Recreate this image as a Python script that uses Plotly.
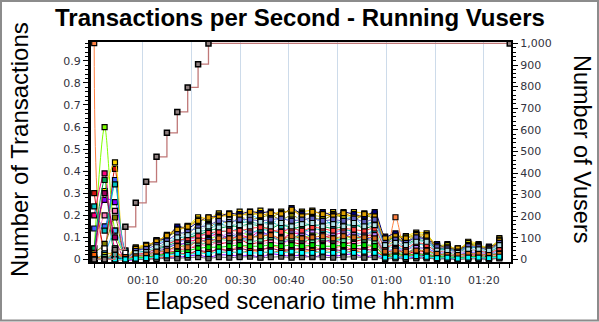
import plotly.graph_objects as go

# Sample times of the transactions-per-second series (seconds since scenario start)
elapsed_sec = [0, 128, 256, 384, 512, 640, 768, 896, 1024, 1152,
               1280, 1408, 1536, 1664, 1792, 1920, 2048, 2176, 2304, 2432,
               2560, 2688, 2816, 2944, 3072, 3200, 3328, 3456, 3584, 3712,
               3840, 3968, 4096, 4224, 4352, 4480, 4608, 4736, 4864, 4992]

# Running Vusers (right axis)
vuser_sec = [0, 128, 256, 384, 512, 640, 768, 896, 1024, 1152, 1280, 1408, 5120]
vusers = [0, 0, 45, 151, 262, 359, 475, 586, 683, 796, 904, 1000, 1000]

# Transactions per second, one list per transaction
tps_01 = [0.98, 0.04, 0.02, 0.01, 0.020, 0.010, 0.010, 0.020, 0.030, 0.020, 0.040, 0.030, 0.050, 0.040, 0.060, 0.050, 0.040, 0.060, 0.050, 0.040, 0.050, 0.060, 0.040, 0.050, 0.060, 0.040, 0.050, 0.060, 0.020, 0.191, 0.030, 0.020, 0.010, 0.010, 0.005, 0.010, 0.020, 0.010, 0.010, 0.020]
tps_02 = [0.05, 0.60, 0.13, 0.02, 0.010, 0.020, 0.040, 0.050, 0.070, 0.060, 0.100, 0.090, 0.110, 0.100, 0.120, 0.110, 0.100, 0.120, 0.130, 0.110, 0.100, 0.110, 0.120, 0.100, 0.090, 0.110, 0.100, 0.120, 0.030, 0.050, 0.020, 0.060, 0.040, 0.020, 0.030, 0.020, 0.030, 0.010, 0.020, 0.030]
tps_03 = [0.20, 0.39, 0.05, 0.00, 0.005, 0.015, 0.030, 0.040, 0.060, 0.080, 0.090, 0.100, 0.120, 0.090, 0.110, 0.100, 0.130, 0.100, 0.090, 0.120, 0.110, 0.090, 0.100, 0.110, 0.120, 0.090, 0.110, 0.100, 0.020, 0.040, 0.030, 0.030, 0.020, 0.010, 0.020, 0.010, 0.020, 0.020, 0.010, 0.020]
tps_04 = [0.30, 0.05, 0.41, 0.02, 0.010, 0.010, 0.020, 0.030, 0.040, 0.050, 0.060, 0.080, 0.070, 0.080, 0.090, 0.070, 0.080, 0.090, 0.100, 0.080, 0.070, 0.100, 0.080, 0.090, 0.070, 0.080, 0.090, 0.080, 0.020, 0.030, 0.020, 0.040, 0.030, 0.010, 0.010, 0.005, 0.010, 0.020, 0.010, 0.010]
tps_05 = [0.14, 0.15, 0.36, 0.04, 0.015, 0.025, 0.035, 0.050, 0.070, 0.070, 0.080, 0.090, 0.090, 0.110, 0.100, 0.090, 0.120, 0.110, 0.080, 0.090, 0.120, 0.100, 0.090, 0.080, 0.100, 0.120, 0.090, 0.100, 0.030, 0.050, 0.030, 0.050, 0.050, 0.030, 0.020, 0.020, 0.030, 0.030, 0.020, 0.030]
tps_06 = [0.00, 0.31, 0.44, 0.01, 0.055, 0.066, 0.080, 0.111, 0.140, 0.152, 0.191, 0.185, 0.209, 0.200, 0.217, 0.210, 0.221, 0.205, 0.217, 0.215, 0.217, 0.221, 0.205, 0.214, 0.200, 0.214, 0.209, 0.200, 0.060, 0.090, 0.106, 0.121, 0.118, 0.050, 0.069, 0.030, 0.080, 0.069, 0.040, 0.096]
tps_07 = [0.02, 0.27, 0.26, 0.00, 0.000, 0.005, 0.005, 0.010, 0.010, 0.015, 0.020, 0.010, 0.020, 0.020, 0.015, 0.020, 0.010, 0.025, 0.020, 0.015, 0.020, 0.010, 0.020, 0.015, 0.020, 0.025, 0.010, 0.020, 0.005, 0.010, 0.005, 0.010, 0.010, 0.005, 0.005, 0.000, 0.010, 0.005, 0.005, 0.010]
tps_08 = [0.24, 0.13, 0.34, 0.04, 0.020, 0.030, 0.050, 0.065, 0.090, 0.085, 0.120, 0.110, 0.130, 0.125, 0.140, 0.120, 0.135, 0.130, 0.120, 0.150, 0.125, 0.140, 0.130, 0.120, 0.135, 0.125, 0.110, 0.130, 0.050, 0.060, 0.040, 0.070, 0.060, 0.040, 0.030, 0.030, 0.040, 0.040, 0.020, 0.050]
tps_09 = [0.05, 0.36, 0.03, 0.00, 0.025, 0.035, 0.045, 0.060, 0.080, 0.100, 0.110, 0.130, 0.140, 0.150, 0.150, 0.160, 0.150, 0.140, 0.160, 0.140, 0.150, 0.160, 0.150, 0.140, 0.150, 0.160, 0.140, 0.150, 0.080, 0.100, 0.070, 0.090, 0.080, 0.050, 0.050, 0.040, 0.060, 0.060, 0.040, 0.070]
tps_10 = [0.00, 0.20, 0.22, 0.03, 0.008, 0.012, 0.025, 0.035, 0.050, 0.045, 0.070, 0.060, 0.080, 0.070, 0.080, 0.090, 0.070, 0.080, 0.070, 0.090, 0.080, 0.070, 0.090, 0.070, 0.080, 0.070, 0.080, 0.090, 0.010, 0.020, 0.015, 0.030, 0.025, 0.015, 0.010, 0.010, 0.015, 0.015, 0.010, 0.020]
tps_11 = [0.03, 0.07, 0.19, 0.01, 0.045, 0.055, 0.075, 0.100, 0.125, 0.110, 0.160, 0.140, 0.180, 0.160, 0.190, 0.180, 0.190, 0.200, 0.180, 0.200, 0.180, 0.190, 0.180, 0.200, 0.190, 0.180, 0.200, 0.180, 0.090, 0.100, 0.080, 0.110, 0.090, 0.060, 0.060, 0.040, 0.070, 0.060, 0.050, 0.080]
tps_12 = [0.00, 0.03, 0.13, 0.02, 0.035, 0.040, 0.070, 0.090, 0.100, 0.130, 0.140, 0.170, 0.150, 0.190, 0.160, 0.200, 0.180, 0.160, 0.190, 0.170, 0.200, 0.160, 0.190, 0.150, 0.180, 0.190, 0.150, 0.170, 0.070, 0.030, 0.090, 0.050, 0.100, 0.020, 0.060, 0.010, 0.070, 0.020, 0.050, 0.040]
tps_13 = [0.00, 0.02, 0.03, 0.00, 0.050, 0.060, 0.085, 0.105, 0.130, 0.150, 0.180, 0.175, 0.200, 0.195, 0.205, 0.200, 0.210, 0.195, 0.210, 0.220, 0.210, 0.200, 0.195, 0.205, 0.195, 0.200, 0.190, 0.205, 0.100, 0.110, 0.100, 0.115, 0.110, 0.065, 0.065, 0.045, 0.075, 0.065, 0.055, 0.090]
tps_14 = [0.00, 0.30, 0.10, 0.00, 0.003, 0.008, 0.015, 0.020, 0.030, 0.025, 0.040, 0.035, 0.045, 0.040, 0.050, 0.040, 0.045, 0.050, 0.040, 0.045, 0.050, 0.040, 0.050, 0.045, 0.040, 0.050, 0.045, 0.040, 0.010, 0.015, 0.010, 0.020, 0.015, 0.008, 0.005, 0.005, 0.010, 0.008, 0.005, 0.010]
tps_15 = [0.01, 0.05, 0.05, 0.03, 0.030, 0.045, 0.060, 0.080, 0.110, 0.120, 0.150, 0.160, 0.170, 0.180, 0.175, 0.190, 0.165, 0.185, 0.170, 0.180, 0.190, 0.175, 0.170, 0.185, 0.160, 0.175, 0.180, 0.150, 0.040, 0.070, 0.050, 0.080, 0.070, 0.030, 0.040, 0.020, 0.050, 0.030, 0.030, 0.060]
tps_16 = [0.00, 0.01, 0.02, 0.00, 0.012, 0.018, 0.030, 0.045, 0.055, 0.065, 0.075, 0.070, 0.090, 0.085, 0.095, 0.080, 0.090, 0.100, 0.085, 0.095, 0.090, 0.085, 0.095, 0.090, 0.085, 0.095, 0.090, 0.080, 0.025, 0.035, 0.025, 0.045, 0.035, 0.020, 0.015, 0.015, 0.025, 0.025, 0.015, 0.030]
tps_17 = [0.00, 0.00, 0.01, 0.00, 0.040, 0.050, 0.088, 0.095, 0.149, 0.140, 0.170, 0.191, 0.195, 0.209, 0.205, 0.217, 0.210, 0.217, 0.200, 0.232, 0.205, 0.210, 0.214, 0.200, 0.214, 0.205, 0.195, 0.214, 0.103, 0.118, 0.080, 0.100, 0.090, 0.069, 0.050, 0.050, 0.060, 0.050, 0.058, 0.070]
tps_18 = [0.02, 0.00, 0.03, 0.01, 0.002, 0.004, 0.008, 0.012, 0.018, 0.030, 0.025, 0.035, 0.030, 0.035, 0.030, 0.040, 0.035, 0.030, 0.040, 0.030, 0.035, 0.040, 0.030, 0.035, 0.030, 0.040, 0.030, 0.035, 0.015, 0.010, 0.020, 0.010, 0.015, 0.005, 0.010, 0.005, 0.005, 0.010, 0.005, 0.010]
tps_19 = [0.00, 0.00, 0.00, 0.00, 0.018, 0.028, 0.040, 0.055, 0.075, 0.090, 0.100, 0.115, 0.100, 0.120, 0.110, 0.130, 0.110, 0.120, 0.140, 0.130, 0.120, 0.130, 0.110, 0.120, 0.130, 0.110, 0.120, 0.110, 0.040, 0.045, 0.045, 0.055, 0.045, 0.025, 0.035, 0.025, 0.035, 0.030, 0.025, 0.040]
tps_20 = [0.00, 0.00, 0.02, 0.00, 0.030, 0.038, 0.055, 0.075, 0.095, 0.105, 0.125, 0.135, 0.160, 0.150, 0.165, 0.170, 0.160, 0.170, 0.150, 0.160, 0.170, 0.150, 0.160, 0.170, 0.165, 0.150, 0.160, 0.165, 0.060, 0.080, 0.060, 0.085, 0.075, 0.045, 0.045, 0.030, 0.055, 0.050, 0.035, 0.060]
tps_21 = [0.00, 0.00, 0.00, 0.00, 0.048, 0.062, 0.082, 0.108, 0.135, 0.148, 0.175, 0.190, 0.190, 0.205, 0.195, 0.215, 0.200, 0.210, 0.205, 0.225, 0.195, 0.215, 0.205, 0.195, 0.210, 0.190, 0.205, 0.195, 0.095, 0.105, 0.095, 0.110, 0.105, 0.060, 0.055, 0.050, 0.065, 0.060, 0.050, 0.085]
tps_22 = [0.00, 0.00, 0.00, 0.00, 0.000, 0.000, 0.002, 0.005, 0.005, 0.008, 0.010, 0.005, 0.010, 0.008, 0.010, 0.012, 0.008, 0.010, 0.012, 0.008, 0.010, 0.012, 0.010, 0.008, 0.010, 0.012, 0.008, 0.010, 0.002, 0.005, 0.002, 0.005, 0.005, 0.002, 0.002, 0.000, 0.002, 0.002, 0.000, 0.005]
tps_23 = [0.00, 0.00, 0.00, 0.00, 0.022, 0.030, 0.050, 0.070, 0.085, 0.095, 0.105, 0.120, 0.125, 0.130, 0.130, 0.140, 0.145, 0.135, 0.125, 0.140, 0.130, 0.145, 0.140, 0.130, 0.140, 0.135, 0.130, 0.140, 0.055, 0.070, 0.050, 0.075, 0.065, 0.035, 0.040, 0.030, 0.045, 0.040, 0.030, 0.050]
tps_24 = [0.00, 0.00, 0.00, 0.00, 0.006, 0.010, 0.018, 0.025, 0.035, 0.040, 0.050, 0.055, 0.055, 0.060, 0.065, 0.060, 0.060, 0.065, 0.060, 0.065, 0.060, 0.065, 0.060, 0.060, 0.065, 0.060, 0.065, 0.060, 0.015, 0.025, 0.018, 0.025, 0.020, 0.012, 0.012, 0.008, 0.012, 0.012, 0.008, 0.015]
tps_25 = [0.00, 0.00, 0.00, 0.00, 0.038, 0.048, 0.065, 0.085, 0.115, 0.125, 0.145, 0.155, 0.175, 0.170, 0.180, 0.180, 0.175, 0.180, 0.185, 0.175, 0.180, 0.185, 0.175, 0.180, 0.175, 0.185, 0.170, 0.180, 0.075, 0.090, 0.075, 0.100, 0.085, 0.055, 0.050, 0.035, 0.060, 0.055, 0.045, 0.075]
tps_26 = [0.00, 0.00, 0.00, 0.00, 0.028, 0.033, 0.055, 0.070, 0.100, 0.110, 0.130, 0.150, 0.145, 0.160, 0.155, 0.150, 0.170, 0.150, 0.165, 0.150, 0.160, 0.165, 0.150, 0.160, 0.150, 0.165, 0.150, 0.155, 0.065, 0.075, 0.065, 0.080, 0.080, 0.040, 0.040, 0.030, 0.045, 0.045, 0.040, 0.065]
tps_27 = [0.00, 0.00, 0.00, 0.00, 0.014, 0.022, 0.035, 0.040, 0.060, 0.055, 0.085, 0.080, 0.095, 0.095, 0.100, 0.100, 0.105, 0.110, 0.095, 0.105, 0.095, 0.100, 0.105, 0.095, 0.105, 0.100, 0.100, 0.095, 0.035, 0.040, 0.035, 0.040, 0.040, 0.025, 0.020, 0.020, 0.025, 0.025, 0.020, 0.025]
tps_28 = [0.00, 0.00, 0.00, 0.00, 0.004, 0.006, 0.012, 0.018, 0.025, 0.020, 0.030, 0.025, 0.035, 0.030, 0.035, 0.030, 0.030, 0.035, 0.030, 0.035, 0.030, 0.030, 0.035, 0.030, 0.035, 0.030, 0.035, 0.030, 0.008, 0.012, 0.010, 0.015, 0.012, 0.006, 0.008, 0.004, 0.008, 0.008, 0.006, 0.012]

series_colors = ["#ff8040", "#80ff00", "#ff0080", "#d01010", "#4060ff", "#ffd700", "#8000ff",
                 "#00c0c0", "#00a050", "#ff80c0", "#808000", "#40c0ff", "#c0c000", "#a00060",
                 "#ffffff", "#60e0a0", "#000080", "#ff6000", "#c080ff", "#20b2aa", "#e0a000",
                 "#606060", "#ff4040", "#00e000", "#6060c0", "#b0e0e6", "#d2691e", "#00ffff"]

tps_series = [tps_01, tps_02, tps_03, tps_04, tps_05, tps_06, tps_07, tps_08, tps_09, tps_10,
              tps_11, tps_12, tps_13, tps_14, tps_15, tps_16, tps_17, tps_18, tps_19, tps_20,
              tps_21, tps_22, tps_23, tps_24, tps_25, tps_26, tps_27, tps_28]

x_tick_minutes = [10, 20, 30, 40, 50, 60, 70, 80]
x_tick_labels = ["00:10", "00:20", "00:30", "00:40", "00:50", "01:00", "01:10", "01:20"]
left_ticks = [0, 0.1, 0.2, 0.3, 0.4, 0.5, 0.6, 0.7, 0.8, 0.9]
left_tick_labels = ["0", "0.1", "0.2", "0.3", "0.4", "0.5", "0.6", "0.7", "0.8", "0.9"]
right_ticks = [0, 100, 200, 300, 400, 500, 600, 700, 800, 900, 1000]
right_tick_labels = ["0", "100", "200", "300", "400", "500", "600", "700", "800", "900", "1,000"]

t_min = [s / 60 for s in elapsed_sec]
vuser_min = [s / 60 for s in vuser_sec]

fig = go.Figure()

for values, color in zip(tps_series, series_colors):
    fig.add_trace(go.Scatter(
        x=t_min, y=values, mode="lines+markers", yaxis="y",
        line=dict(color=color, width=1, shape="spline", smoothing=0.8),
        marker=dict(symbol="square", size=5, color=color,
                    line=dict(color="black", width=1.2)),
        showlegend=False, hoverinfo="skip",
    ))

fig.add_trace(go.Scatter(
    x=vuser_min, y=vusers, mode="lines+markers", yaxis="y2",
    line=dict(color="#c07878", width=1.3, shape="hv"),
    marker=dict(symbol="square", size=5, color="#8f8080",
                line=dict(color="black", width=1.5)),
    showlegend=False, hoverinfo="skip",
))

tick_font = dict(family="DejaVu Sans", size=11, color="#333340")
PL, PR, PT, PB = 91, 88, 42, 60
W, H = 599, 322
pw, ph = W - PL - PR, H - PT - PB

fig.update_layout(
    width=W, height=H,
    margin=dict(l=PL, r=PR, t=PT, b=PB, pad=0),
    paper_bgcolor="white", plot_bgcolor="white",
    xaxis=dict(
        range=[-0.657, 85.59], tickmode="array", tickvals=x_tick_minutes, ticktext=x_tick_labels,
        showgrid=True, gridcolor="#cddbea", gridwidth=1, zeroline=False,
        showline=True, linecolor="black", linewidth=2, mirror=True,
        ticks="outside", ticklen=7, tickcolor="rgba(0,0,0,0)", tickfont=tick_font,
        minor=dict(tick0=0, dtick=128 / 60, ticks="outside", ticklen=4,
                   tickcolor="black", tickwidth=1, showgrid=False),
    ),
    yaxis=dict(
        range=[-0.0118, 0.9855], tickmode="array", tickvals=left_ticks, ticktext=left_tick_labels,
        showgrid=False, zeroline=False, showline=True, linecolor="black", linewidth=3,
        ticks="outside", ticklen=5, tickcolor="black", tickfont=tick_font,
        minor=dict(dtick=0.02, ticks="outside", ticklen=3, tickcolor="black", showgrid=False),
    ),
    yaxis2=dict(
        range=[-12, 1006.5], overlaying="y", side="right", tickmode="array",
        tickvals=right_ticks, ticktext=right_tick_labels,
        showgrid=False, zeroline=False, showline=True, linecolor="black", linewidth=2,
        ticks="outside", ticklen=5, tickcolor="black", tickfont=tick_font,
        minor=dict(dtick=20, ticks="outside", ticklen=3, tickcolor="black", showgrid=False),
    ),
    annotations=[
        dict(text="<b>Transactions per Second - Running Vusers</b>", xref="paper", yref="paper",
             x=(300 - PL) / pw, y=(H - PB - 17) / ph, xanchor="center", yanchor="middle",
             showarrow=False, font=dict(family="Liberation Sans", size=24, color="black")),
        dict(text="Number of Transactions", xref="paper", yref="paper", textangle=-90,
             x=(19 - PL) / pw, y=(H - PB - 150) / ph, xanchor="center", yanchor="middle",
             showarrow=False, font=dict(family="Liberation Sans", size=24, color="black")),
        dict(text="Number of Vusers", xref="paper", yref="paper", textangle=90,
             x=(582 - PL) / pw, y=(H - PB - 149) / ph, xanchor="center", yanchor="middle",
             showarrow=False, font=dict(family="Liberation Sans", size=23.5, color="black")),
        dict(text="Elapsed scenario time hh:mm", xref="paper", yref="paper",
             x=(300 - PL) / pw, y=(H - PB - 301) / ph, xanchor="center", yanchor="middle",
             showarrow=False, font=dict(family="Liberation Sans", size=23.5, color="black")),
    ],
    shapes=[
        dict(type="rect", xref="paper", yref="paper",
             x0=(1 - PL) / pw, x1=(598 - PL) / pw, y0=(H - PB - 320.5) / ph, y1=(H - PB - 1) / ph,
             line=dict(color="#8c8c8c", width=2), fillcolor="rgba(0,0,0,0)", layer="below"),
    ],
)

fig.write_html("out.html")
